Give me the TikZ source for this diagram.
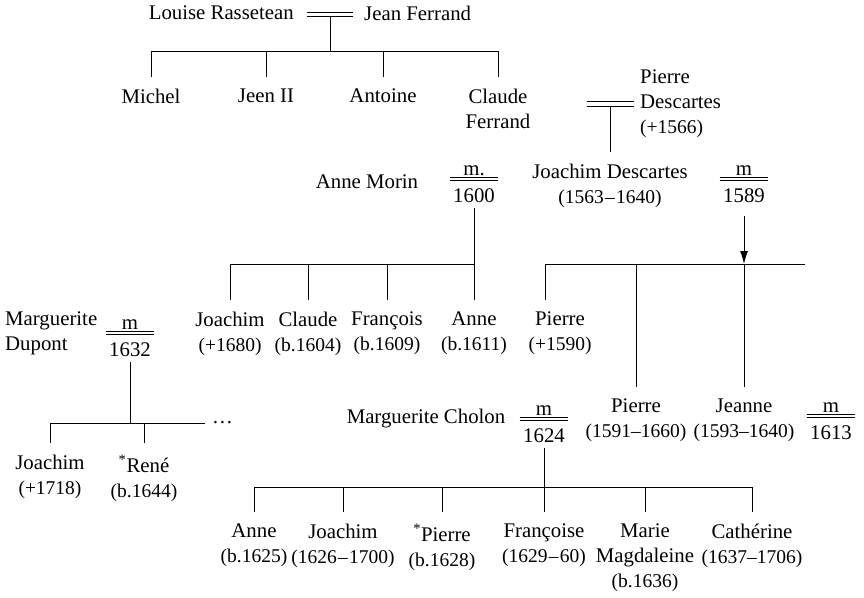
\documentclass[tikz,border=0pt]{standalone}
\usepackage{fontspec}
\setmainfont{Liberation Serif}
\usetikzlibrary{arrows.meta,positioning}
% marriage mark: word over a double rule over the year
\newcommand{\wedyear}[2]{{\renewcommand{\arraystretch}{0.3}%
	\setlength{\arrayrulewidth}{0.9pt}\setlength{\doublerulesep}{2.4pt}%
	\begin{tabular}{@{\,}c@{\,}}#1\\\hline\hline\rule{0pt}{1.05em}#2\end{tabular}}}
\newcommand{\starmark}{\textsuperscript{*}}
\newcommand{\dd}{\kern1.2pt--\kern1.2pt}
\newcommand{\yr}[1]{{\fontsize{19.5}{25}\selectfont #1}}
\begin{document}
\begin{tikzpicture}[x=1pt,y=-1pt,
				font=\fontsize{20.8}{25}\selectfont,
				kid/.style ={anchor=north, align=center, inner xsep=2pt, inner ysep=12pt},
				spouse/.style ={inner sep=0pt},
				wed_mark/.style ={inner sep=3pt},
				wedlock/.style ={draw, double, double distance=3.6pt, line width=0.9pt},
				branch/.style ={draw, line width=0.95pt}]
				\useasboundingbox (0,0) rectangle (864,597);
				% Ferrand family - row 1
				\node [spouse, anchor=east] (louise) at (294,13) {Louise Rassetean};
				\node [spouse, anchor=west] (jean) at (364,13) {Jean Ferrand};
				\coordinate (w0) at (330,17);
				\coordinate (b1) at (330,51);
				\node [kid] (michel) at (151,77) {Michel};
				\node [kid] (jeen) at (266,77) {Jeen II};
				\node [kid] (antoine) at (383,77) {Antoine};
				\node [kid] (claudeF) at (498,77) {Claude\\Ferrand};
				% Descartes family - row 2
				\node [spouse, anchor=west, align=left, inner xsep=6pt] (pierreD) at (634,104) {Pierre\\Descartes\\\yr{(+1566)}};
				\coordinate (w1) at (587,0);
				\node [kid] (joachimD) at (610,152) {Joachim Descartes\\\yr{(1563\dd1640)}};
				\node [spouse] (anneMorin) at (367,182) {Anne Morin};
				\node [wed_mark] (m1600) at (474,185) {\wedyear{m.}{1600}};
				\node [wed_mark] (m1589) at (744,185) {\wedyear{m}{1589}};
				% children of Joachim and Anne Morin
				\coordinate (b2) at (474,264);
				\node [kid] (joachimM) at (230,300) {Joachim\\\yr{(+1680)}};
				\node [kid] (claudeM) at (308,300) {Claude\\\yr{(b.1604)}};
				\node [kid] (francois) at (387,300) {François\\\yr{(b.1609)}};
				\node [kid] (anneM) at (474,300) {Anne\\\yr{(b.1611)}};
				% children of the 1589 marriage
				\coordinate (b3l) at (545,264);
				\coordinate (b3a) at (744,264);
				\coordinate (b3r) at (805,264);
				\node [kid] (pierreA) at (560,300) {Pierre\\\yr{(+1590)}};
				\node [kid] (pierreB) at (636,387) {Pierre\\\yr{(1591--1660)}};
				\node [kid] (jeanne) at (744,387) {Jeanne\\\yr{(1593--1640)}};
				\node [wed_mark] (m1613) at (831,422) {\wedyear{m}{1613}};
				% Joachim and Marguerite Cholon
				\node [spouse] (margC) at (426,419) {Marguerite Cholon};
				\node [wed_mark] (m1624) at (544,425) {\wedyear{m}{1624}};
				\coordinate (b4) at (544,487);
				\node [kid] (anneC) at (254,512) {Anne\\\yr{(b.1625)}};
				\node [kid] (joachimC) at (343,512) {Joachim\\\yr{(1626\dd1700)}};
				\node [kid] (pierreC) at (442,512) {\starmark Pierre\\\yr{(b.1628)}};
				\node [kid] (francoise) at (544,512) {Françoise\\\yr{(1629\dd60)}};
				\node [kid] (marie) at (645,512) {Marie\\Magdaleine\\\yr{(b.1636)}};
				\node [kid] (catherine) at (752,512) {Cathérine\\\yr{(1637--1706)}};
				% Pierre and Marguerite Dupont
				\node [spouse, anchor=north west, align=left] (margD) at (5,312) {Marguerite\\Dupont};
				\node [wed_mark] (m1632) at (130,339) {\wedyear{m}{1632}};
				\coordinate (b5) at (130,423);
				\node [anchor=west, inner xsep=7pt, inner ysep=0pt] (more) at (205,423) {\dots};
				\node [kid] (joachimDu) at (50,443) {Joachim\\\yr{(+1718)}};
				\node [kid] (rene) at (144,443) {\starmark René\\\yr{(b.1644)}};
				% connecting nodes with paths
				\begin{scope}[every path/.style=branch]
					\path (w0) -- (b1);
					\path (michel.north) |- (b1);
					\path (jeen.north) |- (b1);
					\path (antoine.north) |- (b1);
					\path (claudeF.north) |- (b1);
					\path (joachimD.north) -- (joachimD.north |- pierreD.west);
					\path (m1600.south) -- (b2);
					\path (joachimM.north) |- (b2);
					\path (claudeM.north) |- (b2);
					\path (francois.north) |- (b2);
					\path (anneM.north) -- (b2);
					\path (b3l) -- (b3r);
					\path (b3l) -- (b3l |- pierreA.north);
					\path (pierreB.north) -- (pierreB.north |- b3l);
					\path (jeanne.north) -- (b3a);
					\path (m1624.south) -- (b4);
					\path (anneC.north) |- (b4);
					\path (joachimC.north) |- (b4);
					\path (pierreC.north) |- (b4);
					\path (francoise.north) -- (b4);
					\path (marie.north) |- (b4);
					\path (catherine.north) |- (b4);
					\path (m1632.south) -- (b5);
					\path (joachimDu.north) |- (b5);
					\path (rene.north) |- (b5);
					\path (b5) -- (b5 -| more.west);
				\end{scope}
				\draw [branch, -{Latex[length=13pt,width=8pt]}, shorten <=8pt] (m1589.south) -- (b3a);
				% marriage lines
				\path [wedlock] (louise.east) ++(13,1.5) -- ([xshift=-11pt,yshift=-1.5pt]jean.west);
				\path [wedlock] (pierreD.west) -- (pierreD.west -| w1);
\end{tikzpicture}
\end{document}
